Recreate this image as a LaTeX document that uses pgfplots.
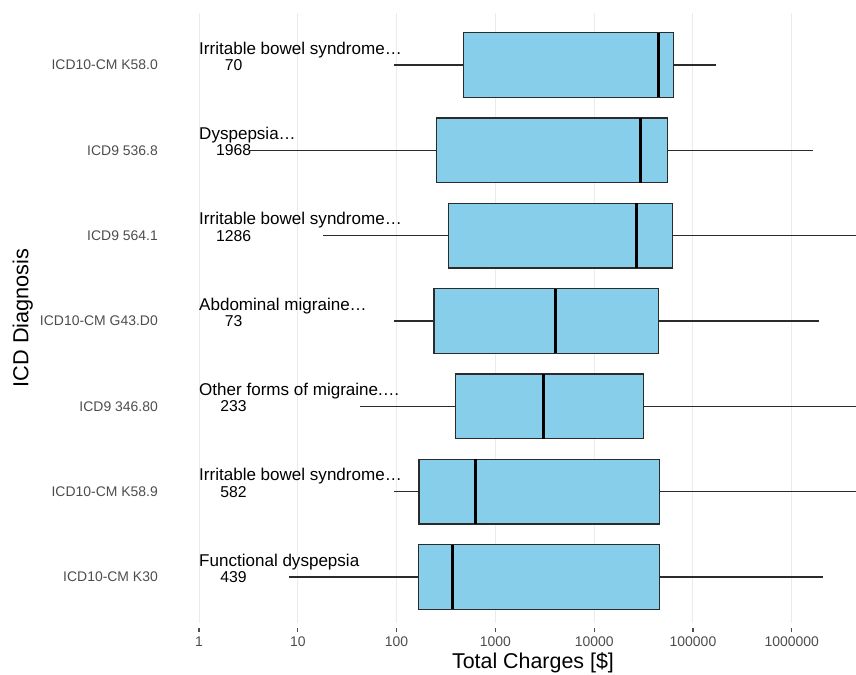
\documentclass[border=0pt]{standalone}
\usepackage{fontspec}
\setmainfont{Liberation Sans}
\usepackage{pgfplots}
\pgfplotsset{compat=1.18}
\usepgfplotslibrary{statistics}
\definecolor{boxfill}{HTML}{87CEEB}
\definecolor{boxline}{HTML}{2B2B2B}
\definecolor{tickgrey}{HTML}{4D4D4D}
\definecolor{gridgrey}{HTML}{EBEBEB}
\tikzset{ttl/.style={inner sep=0pt, anchor=base west, font=\fontsize{17.1}{19}\selectfont},
         cnt/.style={inner sep=0pt, anchor=base, font=\fontsize{15.8}{18}\selectfont}}
\begin{document}
\begin{tikzpicture}
\begin{axis}[
  at={(168bp,52bp)}, anchor=south west,
  scale only axis, width=688bp, height=610bp,
  xmode=log, log basis x=10,
  xmin=0.4853, xmax=4466836,
  ymin=0.461, ymax=7.61,
  axis line style={draw=none},
  xtick={1,10,100,1000,10000,100000,1000000},
  xticklabels={1,10,100,1000,10000,100000,1000000},
  xminorticks=false,
  xmajorgrids, major grid style={draw=gridgrey, line width=1bp},
  xtick pos=bottom,
  xtick style={draw=tickgrey, line width=1.1bp, yshift=-9bp},
  major tick length=4bp,
  xticklabel style={anchor=base, yshift=-23bp, font=\fontsize{14}{16}\selectfont, text=tickgrey},
  ytick={1,2,3,4,5,6,7},
  yticklabels={ICD10-CM K30, ICD10-CM K58.9, ICD9 346.80, ICD10-CM G43.D0, ICD9 564.1, ICD9 536.8, ICD10-CM K58.0},
  ytick style={draw=none},
  yticklabel style={anchor=east, inner sep=0pt, xshift=-10bp, font=\fontsize{14}{16}\selectfont, text=tickgrey},
  xlabel={Total Charges [\$]},
  xlabel style={at={(axis description cs:0.5305,0)}, anchor=base, yshift=-45bp, font=\fontsize{21.5}{24}\selectfont},
  ylabel={ICD Diagnosis},
  ylabel style={at={(axis description cs:-0.2028,0.5)}, anchor=base, rotate=0, font=\fontsize{21.8}{24}\selectfont},
  boxplot/draw direction=x,
  boxplot/whisker extend=0,
  boxplot/box extend=0.76,
  boxplot/every median/.style={draw=black, line width=3bp},
  boxplot/every whisker/.style={draw=boxline, line width=1.3bp},
  boxplot/every box/.style={draw=boxline, fill=boxfill, line width=1.4bp},
]
% bottom (1) to top (7)
\addplot[boxplot prepared={lower whisker=8.1, lower quartile=166, median=364, upper quartile=45600, upper whisker=2080000, draw position=1}] coordinates {};
\addplot[boxplot prepared={lower whisker=94, lower quartile=169, median=622, upper quartile=45600, upper whisker=10000000, draw position=2}] coordinates {};
\addplot[boxplot prepared={lower whisker=43, lower quartile=396, median=3080, upper quartile=31400, upper whisker=10000000, draw position=3}] coordinates {};
\addplot[boxplot prepared={lower whisker=95, lower quartile=240, median=4080, upper quartile=44600, upper whisker=1900000, draw position=4}] coordinates {};
\addplot[boxplot prepared={lower whisker=18.1, lower quartile=337, median=26500, upper quartile=61700, upper whisker=10000000, draw position=5}] coordinates {};
\addplot[boxplot prepared={lower whisker=3.3, lower quartile=252, median=29300, upper quartile=55400, upper whisker=1630000, draw position=6}] coordinates {};
\addplot[boxplot prepared={lower whisker=95, lower quartile=477, median=45000, upper quartile=63800, upper whisker=171000, draw position=7}] coordinates {};
% annotations
\node[ttl] at (axis cs:1,7.129) {Irritable bowel syndrome…};
\node[cnt] at (axis cs:2.235,6.935) {70};
\node[ttl] at (axis cs:1,6.129) {Dyspepsia…};
\node[cnt] at (axis cs:2.235,5.935) {1968};
\node[ttl] at (axis cs:1,5.129) {Irritable bowel syndrome…};
\node[cnt] at (axis cs:2.235,4.935) {1286};
\node[ttl] at (axis cs:1,4.129) {Abdominal migraine…};
\node[cnt] at (axis cs:2.235,3.935) {73};
\node[ttl] at (axis cs:1,3.129) {Other forms of migraine.…};
\node[cnt] at (axis cs:2.235,2.935) {233};
\node[ttl] at (axis cs:1,2.129) {Irritable bowel syndrome…};
\node[cnt] at (axis cs:2.235,1.935) {582};
\node[ttl] at (axis cs:1,1.129) {Functional dyspepsia};
\node[cnt] at (axis cs:2.235,0.935) {439};
\end{axis}
\pgfresetboundingbox
\path[use as bounding box] (0,0) rectangle (856bp,675bp);
\end{tikzpicture}
\end{document}
